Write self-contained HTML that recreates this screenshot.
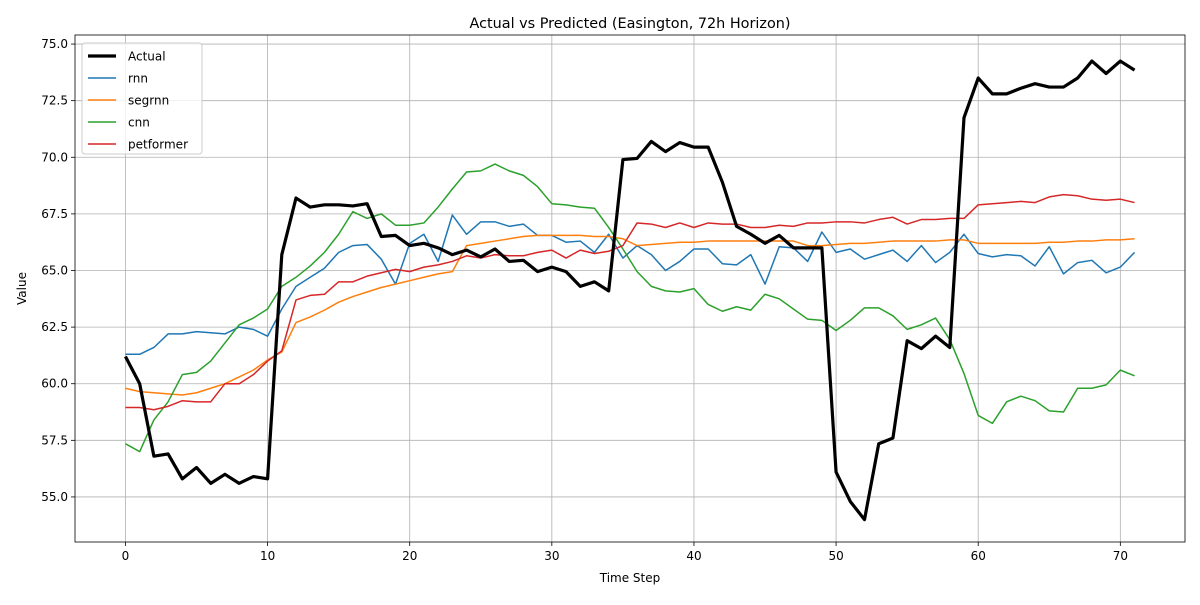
<!DOCTYPE html>
<html><head><meta charset="utf-8"><style>
body{margin:0;background:#fff;font-family:"Liberation Sans","DejaVu Sans",sans-serif;}
svg text{font-family:"DejaVu Sans","Liberation Sans",sans-serif;}
</style></head><body>
<svg id="chart" width="1200" height="600" xmlns="http://www.w3.org/2000/svg"></svg>
<script>
const steps = Array.from({length:72},(_,i)=>i);
const actual=[61.2,60.0,56.8,56.9,55.8,56.3,55.6,56.0,55.6,55.9,55.8,65.7,68.2,67.8,67.9,67.9,67.85,67.95,66.5,66.55,66.1,66.2,66.0,65.7,65.9,65.6,65.95,65.4,65.45,64.95,65.15,64.95,64.3,64.5,64.1,69.9,69.95,70.7,70.25,70.65,70.45,70.45,68.9,66.95,66.6,66.2,66.55,66.0,66.0,66.0,56.1,54.8,54.0,57.35,57.6,61.9,61.55,62.1,61.6,71.75,73.5,72.8,72.8,73.05,73.25,73.1,73.1,73.5,74.25,73.7,74.25,73.85];
const rnn=[61.3,61.3,61.6,62.2,62.2,62.3,62.25,62.2,62.5,62.4,62.1,63.3,64.3,64.7,65.1,65.8,66.1,66.15,65.5,64.4,66.2,66.6,65.4,67.45,66.6,67.15,67.15,66.95,67.05,66.55,66.55,66.25,66.3,65.8,66.6,65.55,66.1,65.7,65.0,65.4,65.95,65.95,65.3,65.25,65.7,64.4,66.05,66.0,65.4,66.7,65.8,65.95,65.5,65.7,65.9,65.4,66.1,65.35,65.8,66.6,65.75,65.6,65.7,65.65,65.2,66.05,64.85,65.35,65.45,64.9,65.15,65.8];
const segrnn=[59.8,59.65,59.6,59.55,59.5,59.6,59.8,60.0,60.3,60.6,61.05,61.4,62.7,62.95,63.25,63.6,63.85,64.05,64.25,64.4,64.55,64.7,64.85,64.95,66.1,66.2,66.3,66.4,66.5,66.55,66.55,66.55,66.55,66.5,66.5,66.4,66.1,66.15,66.2,66.25,66.25,66.3,66.3,66.3,66.3,66.3,66.3,66.3,66.1,66.1,66.15,66.2,66.2,66.25,66.3,66.3,66.3,66.3,66.35,66.35,66.2,66.2,66.2,66.2,66.2,66.25,66.25,66.3,66.3,66.35,66.35,66.4];
const cnn=[57.35,57.0,58.4,59.2,60.4,60.5,61.0,61.8,62.6,62.9,63.3,64.3,64.7,65.2,65.8,66.6,67.6,67.3,67.5,67.0,67.0,67.1,67.8,68.6,69.35,69.4,69.7,69.4,69.2,68.7,67.95,67.9,67.8,67.75,66.9,65.95,64.95,64.3,64.1,64.05,64.2,63.5,63.2,63.4,63.25,63.95,63.75,63.3,62.85,62.8,62.35,62.8,63.35,63.35,63.0,62.4,62.6,62.9,61.95,60.45,58.6,58.25,59.2,59.45,59.25,58.8,58.75,59.8,59.8,59.95,60.6,60.35];
const petformer=[58.95,58.95,58.85,59.0,59.25,59.2,59.2,60.0,60.0,60.4,61.0,61.45,63.7,63.9,63.95,64.5,64.5,64.75,64.9,65.05,64.95,65.15,65.25,65.4,65.65,65.55,65.7,65.65,65.65,65.8,65.9,65.55,65.9,65.75,65.85,66.1,67.1,67.05,66.9,67.1,66.9,67.1,67.05,67.05,66.9,66.9,67.0,66.95,67.1,67.1,67.15,67.15,67.1,67.25,67.35,67.05,67.25,67.25,67.3,67.3,67.9,67.95,68.0,68.05,68.0,68.25,68.35,68.3,68.15,68.1,68.15,68.0];
const xTicks=[0,10,20,30,40,50,60,70];
const yTicks=[55.0,57.5,60.0,62.5,65.0,67.5,70.0,72.5,75.0];

const L=75,R=1185,T=35,B=542;
const xMin=-3.55,xMax=74.55,yMin=53.01,yMax=75.4;
const X=v=>L+(v-xMin)/(xMax-xMin)*(R-L);
const Y=v=>B-(v-yMin)/(yMax-yMin)*(B-T);
const svg=document.getElementById('chart');
const NS='http://www.w3.org/2000/svg';
function mk(tag,attrs,parent){const e=document.createElementNS(NS,tag);for(const k in attrs)e.setAttribute(k,attrs[k]);(parent||svg).appendChild(e);return e;}

xTicks.forEach(t=>{
  const g=mk('line',{x1:X(t),x2:X(t),y1:T,y2:B,stroke:'#b0b0b0','stroke-width':0.8});
  
  
  mk('line',{x1:X(t),x2:X(t),y1:B,y2:B+4,stroke:'#000','stroke-width':0.8});
  const tx=mk('text',{x:X(t),y:B+18,'text-anchor':'middle','font-size':12});
  tx.textContent=t;
  
  
});
yTicks.forEach(t=>{
  const g=mk('line',{x1:L,x2:R,y1:Y(t),y2:Y(t),stroke:'#b0b0b0','stroke-width':0.8});
  
  
  mk('line',{x1:L-4,x2:L,y1:Y(t),y2:Y(t),stroke:'#000','stroke-width':0.8});
  const tx=mk('text',{x:L-7,y:Y(t)+4,'text-anchor':'end','font-size':12});
  tx.textContent=t.toFixed(1);
  
  
});

const series=[
  {name:'Actual',d:actual,c:'#000',w:3.2},
  {name:'rnn',d:rnn,c:'#1f77b4',w:1.5},
  {name:'segrnn',d:segrnn,c:'#ff7f0e',w:1.5},
  {name:'cnn',d:cnn,c:'#2ca02c',w:1.5},
  {name:'petformer',d:petformer,c:'#d62728',w:1.5}
];
[1,2,3,4,0].forEach(i=>{
  const s=series[i];
  const p=mk('polyline',{points:s.d.map((v,j)=>X(steps[j])+','+Y(v)).join(' '),fill:'none',stroke:s.c,'stroke-width':s.w,'stroke-linejoin':'round'});
  
  
});

const frame=mk('rect',{x:L,y:T,width:R-L,height:B-T,fill:'none',stroke:'#000','stroke-width':0.8});



const title=mk('text',{x:(L+R)/2,y:T-7,'text-anchor':'middle','font-size':14.4});
title.textContent='Actual vs Predicted (Easington, 72h Horizon)';


const xl=mk('text',{x:(L+R)/2,y:582,'text-anchor':'middle','font-size':12});
xl.textContent='Time Step';


const yl=mk('text',{x:0,y:0,'text-anchor':'middle','font-size':12,transform:'translate(26,'+((T+B)/2)+') rotate(-90)'});
yl.textContent='Value';



const lg=mk('g',{});


mk('rect',{x:82,y:43,width:120,height:111,rx:3,fill:'#fff','fill-opacity':0.8,stroke:'#ccc','stroke-width':1},lg);
series.forEach((s,i)=>{
  const yy=56+i*22;
  mk('line',{x1:88,x2:116,y1:yy,y2:yy,stroke:s.c,'stroke-width':s.w},lg);
  const t=mk('text',{x:128,y:yy+4.5,'font-size':12},lg);
  t.textContent=s.name;
  
  
});
</script>
</body></html>
